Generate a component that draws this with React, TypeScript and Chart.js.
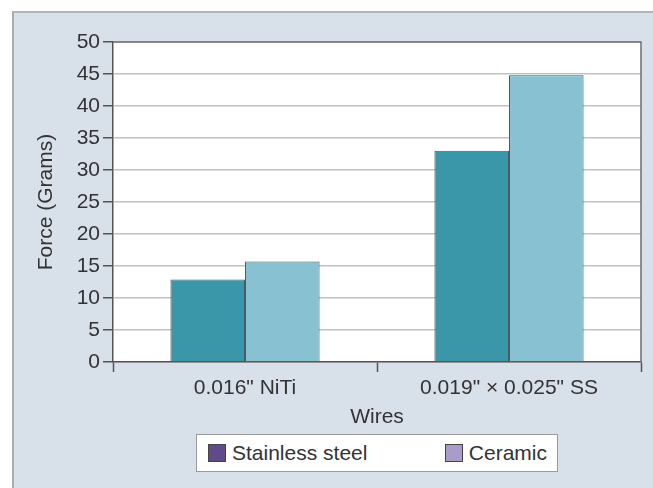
import React, { useEffect, useRef } from "react";
import { Chart, registerables } from "chart.js";

Chart.register(...registerables);

const categories = ['0.016" NiTi', '0.019" × 0.025" SS'];
const seriesNames = ["Stainless steel", "Ceramic"];
const stainlessSteel = [12.9, 33.0];
const ceramic = [15.7, 44.8];
const barColors = ["#3a97a9", "#88c2d2"];
const legendColors = ["#5f4b8b", "#a99ccb"];
const yTicks = [0, 5, 10, 15, 20, 25, 30, 35, 40, 45, 50];

const seriesData = [stainlessSteel, ceramic];

const FONT = "'Liberation Sans', Arial, sans-serif";

const plotFrame = {
  id: "plotFrame",
  beforeDraw(chart: any) {
    const { ctx, chartArea } = chart;
    ctx.save();
    ctx.fillStyle = "#ffffff";
    ctx.fillRect(chartArea.left, chartArea.top, chartArea.right - chartArea.left, chartArea.bottom - chartArea.top);
    ctx.restore();
  },
  afterDraw(chart: any) {
    const { ctx, chartArea } = chart;
    ctx.save();
    ctx.strokeStyle = "#6e6e6e";
    ctx.lineWidth = 1.5;
    ctx.beginPath();
    ctx.moveTo(chartArea.left, chartArea.top);
    ctx.lineTo(chartArea.right, chartArea.top);
    ctx.lineTo(chartArea.right, chartArea.bottom);
    ctx.stroke();
    ctx.restore();
  },
};

export default function App() {
  const ref = useRef<HTMLCanvasElement>(null);

  useEffect(() => {
    if (!ref.current) return;
    const chart = new Chart(ref.current, {
      type: "bar",
      data: {
        labels: categories,
        datasets: seriesNames.map((name, i) => ({
          label: name,
          data: seriesData[i],
          backgroundColor: barColors[i],
          borderColor: "#4d5b61",
          borderWidth: 1,
          categoryPercentage: 0.565,
          barPercentage: 1,
        })),
      },
      options: {
        animation: false,
        responsive: false,
        layout: { padding: { left: 0, top: 42, right: 12, bottom: 58 } },
        plugins: {
          legend: { display: false },
          tooltip: { enabled: false },
        },
        scales: {
          x: {
            afterFit: (s: any) => {
              s.height = 68;
            },
            grid: {
              display: true,
              drawOnChartArea: false,
              drawTicks: true,
              tickLength: 10,
              tickColor: "#555555",
              tickWidth: 1.5,
              offset: true,
            },
            border: { display: true, color: "#555555", width: 1.5 },
            ticks: {
              color: "#333333",
              font: { family: FONT, size: 21 },
              padding: 4,
              maxRotation: 0,
              autoSkip: false,
            },
            title: {
              display: true,
              text: "Wires",
              color: "#333333",
              font: { family: FONT, size: 21 },
              padding: { top: 0, bottom: 0 },
            },
          },
          y: {
            min: 0,
            max: 50,
            afterFit: (s: any) => {
              s.width = 113;
            },
            afterBuildTicks: (s: any) => {
              s.ticks = yTicks.map((v) => ({ value: v }));
            },
            grid: {
              color: "#c2c2c2",
              lineWidth: 1.5,
              drawTicks: true,
              tickLength: 10,
              tickColor: "#555555",
              tickWidth: 1.5,
            },
            border: { display: true, color: "#555555", width: 1.5 },
            ticks: {
              color: "#333333",
              font: { family: FONT, size: 21 },
              padding: 3,
            },
            title: {
              display: true,
              text: "Force (Grams)",
              color: "#333333",
              font: { family: FONT, size: 21 },
              padding: { top: 34, bottom: 0 },
            },
          },
        },
      },
      plugins: [plotFrame],
    });
    return () => chart.destroy();
  }, []);

  return (
    <div style={{ position: "absolute", left: 0, top: 0, width: 653, height: 488, background: "#ffffff", overflow: "hidden" }}>
      <div
        style={{
          position: "absolute",
          left: 12,
          top: 11,
          right: 0,
          bottom: 0,
          background: "#d8e0ea",
          borderLeft: "2px solid #a9abae",
          borderTop: "2px solid #b3b5b8",
        }}
      />
      <canvas ref={ref} width={653} height={488} style={{ position: "absolute", left: 0, top: 0, width: 653, height: 488 }} />
      <div
        style={{
          position: "absolute",
          left: 196,
          top: 434,
          width: 362,
          height: 38,
          boxSizing: "border-box",
          border: "1px solid #9a9a9a",
          background: "#ffffff",
          display: "flex",
          alignItems: "center",
          justifyContent: "space-between",
          paddingLeft: 11,
          paddingRight: 10,
          fontFamily: FONT,
          fontSize: 21,
          color: "#333333",
        }}
      >
        {seriesNames.map((name, i) => (
          <div key={name} style={{ display: "flex", alignItems: "center" }}>
            <span
              style={{
                display: "inline-block",
                width: 16,
                height: 16,
                background: legendColors[i],
                border: "1px solid #444",
                marginRight: 6,
              }}
            />
            <span>{name}</span>
          </div>
        ))}
      </div>
    </div>
  );
}
